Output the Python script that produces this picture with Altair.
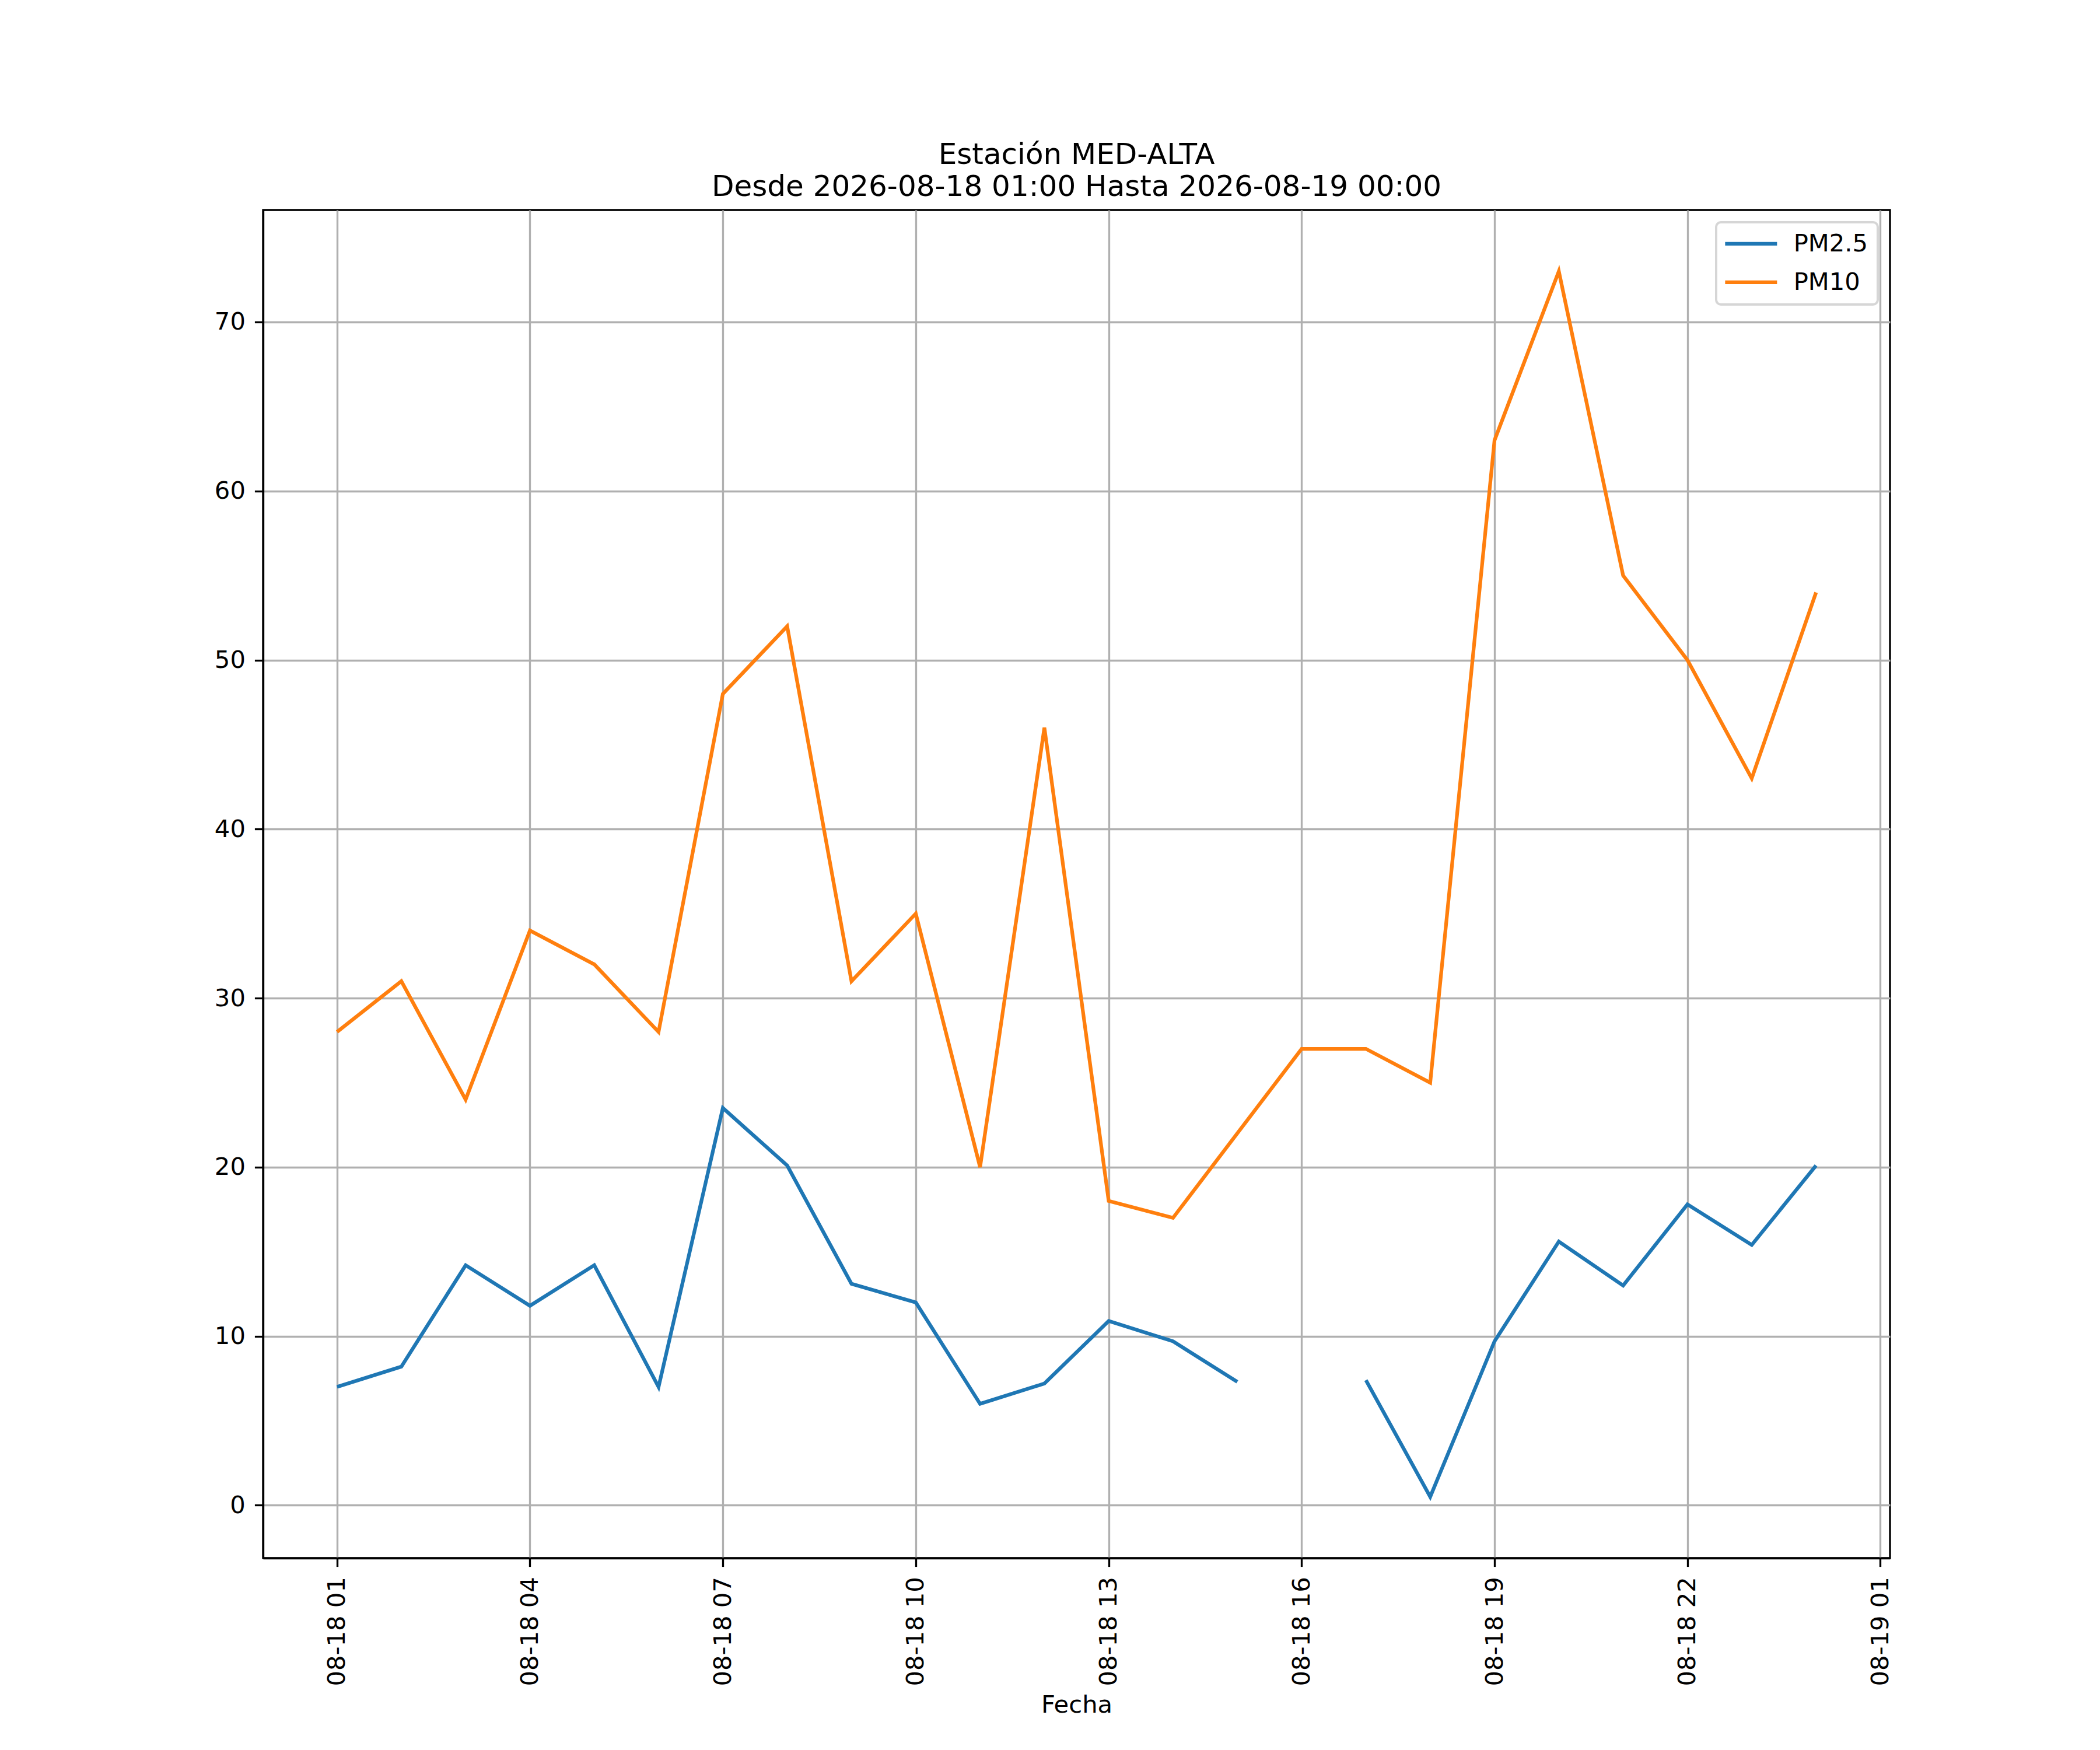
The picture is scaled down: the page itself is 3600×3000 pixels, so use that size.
import altair as alt
import pandas as pd

fechas = [
    "2026-08-18T01:00:00", "2026-08-18T02:00:00", "2026-08-18T03:00:00",
    "2026-08-18T04:00:00", "2026-08-18T05:00:00", "2026-08-18T06:00:00",
    "2026-08-18T07:00:00", "2026-08-18T08:00:00", "2026-08-18T09:00:00",
    "2026-08-18T10:00:00", "2026-08-18T11:00:00", "2026-08-18T12:00:00",
    "2026-08-18T13:00:00", "2026-08-18T14:00:00", "2026-08-18T15:00:00",
    "2026-08-18T16:00:00", "2026-08-18T17:00:00", "2026-08-18T18:00:00",
    "2026-08-18T19:00:00", "2026-08-18T20:00:00", "2026-08-18T21:00:00",
    "2026-08-18T22:00:00", "2026-08-18T23:00:00", "2026-08-19T00:00:00",
]
pm25 = [7.0, 8.2, 14.2, 11.8, 14.2, 7.0, 23.5, 20.1, 13.1, 12.0, 6.0, 7.2,
        10.9, 9.7, 7.3, None, 7.4, 0.5, 9.7, 15.6, 13.0, 17.8, 15.4, 20.1]
pm10 = [28, 31, 24, 34, 32, 28, 48, 52, 31, 35, 20, 46,
        18, 17, 22, 27, 27, 25, 63, 73, 55, 50, 43, 54]
series = ["PM2.5", "PM10"]
colores = ["#1f77b4", "#ff7f0e"]
titulo = ["Estación MED-ALTA", "Desde 2026-08-18 01:00 Hasta 2026-08-19 00:00"]
x_ticks = [(18, 1), (18, 4), (18, 7), (18, 10), (18, 13), (18, 16), (18, 19), (18, 22), (19, 1)]
y_ticks = [0, 10, 20, 30, 40, 50, 60, 70]

df = pd.DataFrame({
    "Fecha": fechas * 2,
    "Contaminante": [series[0]] * len(pm25) + [series[1]] * len(pm10),
    "Valor": pm25 + pm10,
})

tick_values = [alt.DateTime(year=2026, month=8, date=d, hours=h) for d, h in x_ticks]
x_domain = [alt.DateTime(year=2026, month=8, date=17, hours=23, minutes=51),
            alt.DateTime(year=2026, month=8, date=19, hours=1, minutes=9)]

FS = 41.7

chart = alt.Chart(df).mark_line(strokeWidth=6.25, invalid="break-paths-show-domains").encode(
    x=alt.X("Fecha:T", title="Fecha",
            scale=alt.Scale(domain=x_domain, nice=False),
            axis=alt.Axis(values=tick_values, format="%m-%d %H", labelAngle=270,
                          labelFlush=False, labelOverlap=False, labelPadding=17,
                          labelLimit=0, titlePadding=31)),
    y=alt.Y("Valor:Q", title=None,
            scale=alt.Scale(domain=[-3.125, 76.625], nice=False, zero=False),
            axis=alt.Axis(values=y_ticks, format="d", labelPadding=16)),
    color=alt.Color("Contaminante:N", title=None,
                    scale=alt.Scale(domain=series, range=colores),
                    legend=alt.Legend(orient="none", legendX=2491, legendY=21)),
).properties(
    width=2789, height=2311,
    autosize=alt.AutoSizeParams(type="none"),
    padding={"left": 443, "top": 352, "right": 352, "bottom": 321},
    title=alt.TitleParams(text=titulo, font="DejaVu Sans", fontSize=50,
                          fontWeight="normal", color="black", anchor="middle",
                          lineHeight=55, offset=14),
).configure_view(
    stroke="black", strokeWidth=3.33
).configure_axis(
    grid=True, gridColor="#b0b0b0", gridWidth=3.33,
    domainColor="black", domainWidth=3.33,
    tickColor="black", tickWidth=3.33, tickSize=14.6,
    labelFont="DejaVu Sans", labelFontSize=FS, labelColor="black",
    titleFont="DejaVu Sans", titleFontSize=FS, titleColor="black",
    titleFontWeight="normal",
).configure_legend(
    symbolType="M-2.967,0H2.967", symbolSize=900, symbolStrokeWidth=6.25,
    symbolOffset=23,
    labelFontSize=FS, labelFont="DejaVu Sans", labelColor="black",
    labelOffset=52, padding=16, rowPadding=23,
    fillColor="white", strokeColor="#d6d6d6", strokeWidth=4, cornerRadius=8,
)

chart.save("out.html", embed_options={"renderer": "svg", "actions": False})
